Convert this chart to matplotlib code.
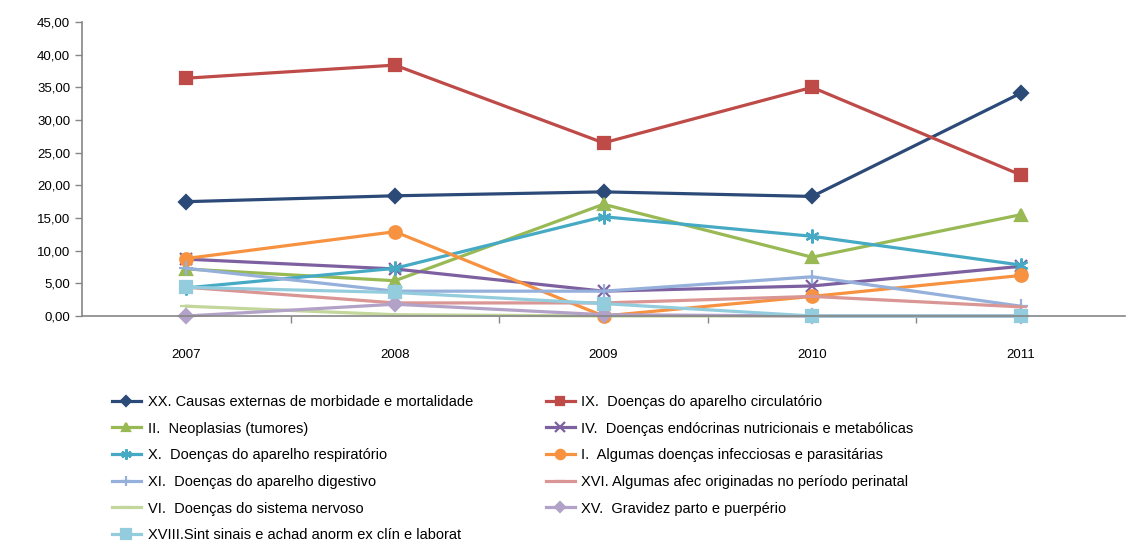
import matplotlib.pyplot as plt
from matplotlib.ticker import FuncFormatter, FixedLocator

years = ['2007', '2008', '2009', '2010', '2011']

labels = [
    'XX. Causas externas de morbidade e mortalidade',
    'IX.  Doenças do aparelho circulatório',
    'II.  Neoplasias (tumores)',
    'IV.  Doenças endócrinas nutricionais e metabólicas',
    'X.  Doenças do aparelho respiratório',
    'I.  Algumas doenças infecciosas e parasitárias',
    'XI.  Doenças do aparelho digestivo',
    'XVI. Algumas afec originadas no período perinatal',
    'VI.  Doenças do sistema nervoso',
    'XV.  Gravidez parto e puerpério',
    'XVIII.Sint sinais e achad anorm ex clín e laborat',
]

causas_externas = [17.5, 18.4, 19.0, 18.3, 34.1]
circulatorio = [36.4, 38.4, 26.5, 35.0, 21.6]
neoplasias = [7.2, 5.4, 17.1, 9.0, 15.5]
endocrinas = [8.7, 7.2, 3.8, 4.6, 7.6]
respiratorio = [4.3, 7.3, 15.2, 12.2, 7.8]
infecciosas = [8.8, 12.9, 0.0, 3.0, 6.2]
digestivo = [7.3, 3.8, 3.8, 6.0, 1.5]
perinatal = [4.4, 2.0, 2.0, 3.0, 1.4]
nervoso = [1.5, 0.2, 0.0, 0.0, 0.0]
gravidez = [0.0, 1.8, 0.2, 0.0, 0.0]
sint_sinais = [4.4, 3.6, 1.9, 0.0, 0.0]

series = [causas_externas, circulatorio, neoplasias, endocrinas, respiratorio,
          infecciosas, digestivo, perinatal, nervoso, gravidez, sint_sinais]

colors = ['#2C4A78', '#BE4B48', '#98B954', '#7D60A0', '#46AAC5', '#F69240',
          '#95B0DA', '#D99694', '#C3D69B', '#B3A2C7', '#93CDDD']
markers = ['D', 's', '^', 'x', (6, 2, 0), 'o', '+', '_', '_', 'D', 's']
msizes = [7, 8, 8, 9, 10, 9, 10, 9, 9, 7, 9]

plt.rcParams['font.family'] = ['Liberation Sans', 'DejaVu Sans']

fig = plt.figure(figsize=(11.26, 5.51), dpi=100)
ax = fig.add_axes([82 / 1126, 1 - 316 / 551, 1043 / 1126, 294 / 551])

x = list(range(len(years)))
handles = []
for vals, lab, c, m, ms in zip(series, labels, colors, markers, msizes):
    h, = ax.plot(x, vals, color=c, lw=2.3, marker=m, markersize=ms,
                 markeredgewidth=1.6, markeredgecolor=c, markerfacecolor=c,
                 label=lab, clip_on=False)
    handles.append(h)

ax.set_xlim(-0.5, 4.5)
ax.set_ylim(0, 45)
ax.set_yticks(range(0, 46, 5))
ax.yaxis.set_major_formatter(FuncFormatter(lambda v, p: f'{v:.2f}'.replace('.', ',')))

ax.set_xticks(x)
ax.set_xticklabels(years)
ax.xaxis.set_minor_locator(FixedLocator([0.5, 1.5, 2.5, 3.5]))
ax.tick_params(axis='x', which='major', length=0, pad=24, labelsize=9.5)
ax.tick_params(axis='x', which='minor', length=5, color='#868686', width=1)
ax.tick_params(axis='y', length=5, color='#868686', width=1, labelsize=9.5)

for s in ['top', 'right']:
    ax.spines[s].set_visible(False)
for s in ['left', 'bottom']:
    ax.spines[s].set_color('#868686')
    ax.spines[s].set_linewidth(1.2)

# excel fills the legend row by row
order = [0, 2, 4, 6, 8, 10, 1, 3, 5, 7, 9]
leg = fig.legend([handles[i] for i in order], [labels[i] for i in order],
                 loc='upper left', bbox_to_anchor=(106 / 1126, 1 - 389 / 551),
                 ncol=2, frameon=False, fontsize=10.5, handlelength=2.0,
                 columnspacing=5.0, labelspacing=0.87, handletextpad=0.45,
                 markerscale=0.75, borderaxespad=0)

fig.savefig('out.png', dpi=100)
